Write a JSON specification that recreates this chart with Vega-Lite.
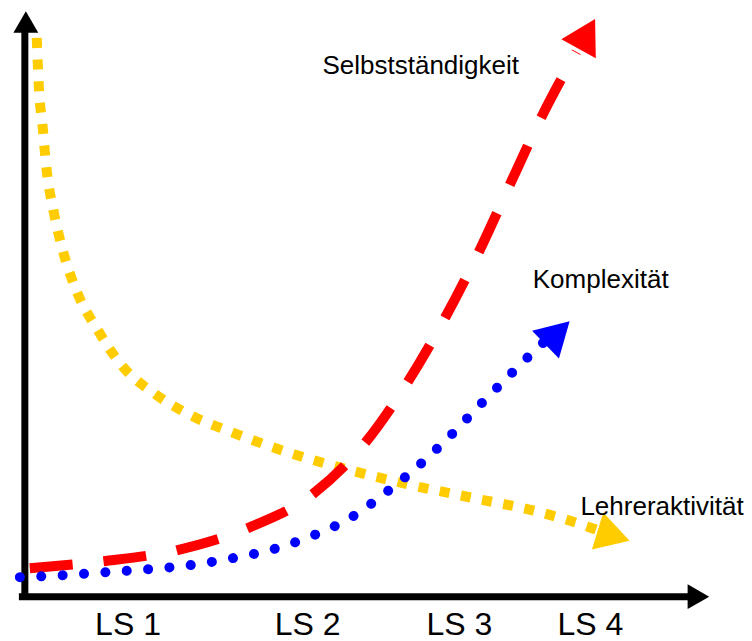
{
  "$schema": "https://vega.github.io/schema/vega-lite/v6.json",
  "width": 752,
  "height": 641,
  "autosize": {"type": "fit", "contains": "padding"},
  "padding": 0,
  "background": "white",
  "config": {"view": {"stroke": null}},
  "datasets": {
    "axes": [
      {"x": 19, "x2": 19, "y": 30, "y2": 602},
      {"x": 13, "x2": 692, "y": 598.5, "y2": 598.5}
    ],
    "lehrer": [
      {"x": 31, "y": 38}, {"x": 33, "y": 85}, {"x": 37, "y": 128}, {"x": 41, "y": 171},
      {"x": 48, "y": 212}, {"x": 58, "y": 254}, {"x": 72, "y": 294}, {"x": 93, "y": 332},
      {"x": 117, "y": 367}, {"x": 150, "y": 395}, {"x": 187, "y": 417}, {"x": 226, "y": 433},
      {"x": 285, "y": 454}, {"x": 348, "y": 472}, {"x": 410, "y": 487}, {"x": 473, "y": 500},
      {"x": 535, "y": 513}, {"x": 597, "y": 532}, {"x": 605, "y": 535}
    ],
    "selbst": [
      {"x": 24, "y": 570}, {"x": 98, "y": 563}, {"x": 172, "y": 552}, {"x": 243, "y": 530},
      {"x": 310, "y": 495}, {"x": 363, "y": 443}, {"x": 405, "y": 383}, {"x": 443, "y": 318},
      {"x": 477, "y": 252}, {"x": 508, "y": 185}, {"x": 540, "y": 117}, {"x": 575, "y": 52}
    ],
    "komplex": [
      {"x": 14, "y": 579}, {"x": 58, "y": 577}, {"x": 100, "y": 574}, {"x": 143, "y": 571},
      {"x": 185, "y": 567}, {"x": 228, "y": 560}, {"x": 269, "y": 551}, {"x": 310, "y": 537},
      {"x": 348, "y": 519}, {"x": 383, "y": 494}, {"x": 416, "y": 467}, {"x": 447, "y": 438},
      {"x": 477, "y": 407}, {"x": 507, "y": 377}, {"x": 538, "y": 347}, {"x": 548, "y": 338}
    ],
    "heads": [
      {"x": 20, "y": 22, "angle": 0, "color": "#000000", "size": 620},
      {"x": 698, "y": 598.5, "angle": 90, "color": "#000000", "size": 620},
      {"x": 585.5, "y": 34, "angle": 29, "color": "#FF0000", "size": 1550},
      {"x": 556, "y": 334, "angle": 46, "color": "#0000FF", "size": 1500},
      {"x": 612.5, "y": 537.5, "angle": 107, "color": "#FFCC00", "size": 1500}
    ],
    "labels": [
      {"x": 319, "y": 74, "text": "Selbstständigkeit"},
      {"x": 531, "y": 289, "text": "Komplexität"},
      {"x": 579, "y": 517, "text": "Lehreraktivität"}
    ],
    "ticks": [
      {"x": 123, "y": 637, "text": "LS 1"},
      {"x": 304, "y": 637, "text": "LS 2"},
      {"x": 457, "y": 637, "text": "LS 3"},
      {"x": 589, "y": 637, "text": "LS 4"}
    ]
  },
  "encoding": {
    "x": {"field": "x", "type": "quantitative", "scale": {"domain": [0, 752], "nice": false, "zero": false}, "axis": null},
    "y": {"field": "y", "type": "quantitative", "scale": {"domain": [0, 641], "nice": false, "zero": false, "reverse": true}, "axis": null}
  },
  "layer": [
    {
      "data": {"name": "axes"},
      "mark": {"type": "rule", "strokeWidth": 7, "color": "#000000", "strokeCap": "butt"},
      "encoding": {"x2": {"field": "x2"}, "y2": {"field": "y2"}}
    },
    {
      "data": {"name": "lehrer"},
      "mark": {"type": "line", "color": "#FFCC00", "strokeWidth": 10, "strokeDash": [10, 11.6], "strokeCap": "butt", "interpolate": "monotone"},
      "encoding": {}
    },
    {
      "data": {"name": "selbst"},
      "mark": {"type": "line", "color": "#FF0000", "strokeWidth": 10, "strokeDash": [43, 31], "strokeCap": "butt", "interpolate": "monotone"},
      "encoding": {}
    },
    {
      "data": {"name": "komplex"},
      "mark": {"type": "line", "color": "#0000FF", "strokeWidth": 10, "strokeDash": [0.01, 21.4], "strokeCap": "round", "interpolate": "monotone"},
      "encoding": {}
    },
    {
      "data": {"name": "heads"},
      "mark": {"type": "point", "shape": "triangle-up", "filled": true, "opacity": 1, "strokeWidth": 0},
      "encoding": {
        "angle": {"field": "angle", "type": "quantitative", "scale": null},
        "color": {"field": "color", "type": "nominal", "scale": null},
        "size": {"field": "size", "type": "quantitative", "scale": null}
      }
    },
    {
      "data": {"name": "labels"},
      "mark": {"type": "text", "align": "left", "baseline": "alphabetic", "font": "Liberation Sans", "fontSize": 26, "color": "#000000"},
      "encoding": {"text": {"field": "text"}}
    },
    {
      "data": {"name": "ticks"},
      "mark": {"type": "text", "align": "center", "baseline": "alphabetic", "font": "Liberation Sans", "fontSize": 32, "color": "#000000"},
      "encoding": {"text": {"field": "text"}}
    }
  ]
}
